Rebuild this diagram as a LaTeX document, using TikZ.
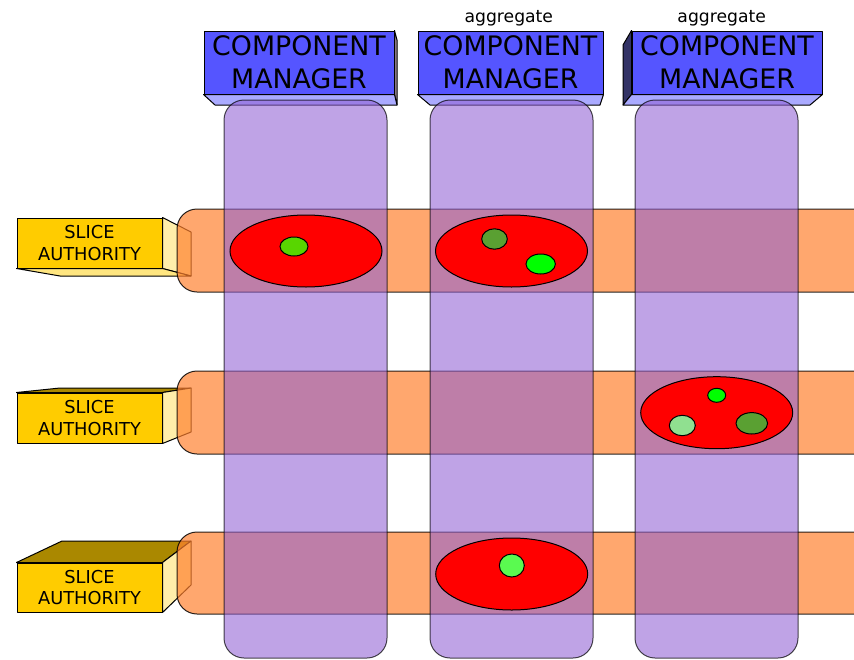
\documentclass[tikz,border=0pt]{standalone}
\usepackage{fontspec}
\setmainfont{DejaVu Sans}
\usetikzlibrary{shapes.geometric}

\definecolor{cmblue}{RGB}{85,85,255}
\definecolor{cmlight}{RGB}{170,170,255}
\definecolor{cmgrey}{RGB}{160,140,150}
\definecolor{cmdark}{RGB}{51,51,102}
\definecolor{sagold}{RGB}{255,204,0}
\definecolor{saside}{RGB}{255,238,170}
\definecolor{sabottom}{RGB}{255,230,128}
\definecolor{satopc}{RGB}{170,136,0}
\definecolor{bandorange}{RGB}{255,129,48}
\definecolor{colpurple}{RGB}{145,97,212}
\definecolor{slicered}{RGB}{255,0,0}
\definecolor{glime}{RGB}{88,214,0}
\definecolor{golive}{RGB}{90,160,50}
\definecolor{gbright}{RGB}{0,255,0}
\definecolor{gpale}{RGB}{144,224,144}
\definecolor{gmint}{RGB}{90,250,80}

\tikzset{
  face/.style={draw=black, line width=1pt, line join=round},
  cmfront/.style={face, fill=cmblue, minimum width=190pt, minimum height=63pt,
    inner sep=0pt, align=center, font=\fontsize{26.8}{33}\selectfont},
  safront/.style={face, fill=sagold, minimum width=145pt, minimum height=50pt,
    inner sep=0pt, align=center, font=\fontsize{17.8}{21.6}\selectfont},
  label/.style={font=\fontsize{17.2}{20}\selectfont, anchor=base},
  band/.style={draw=black, draw opacity=0.85, line width=1pt,
    fill=bandorange, fill opacity=0.7},
  column/.style={draw=black, draw opacity=0.7, line width=1pt,
    fill=colpurple, fill opacity=0.58, rounded corners=20pt},
  slice/.style={ellipse, draw=black, line width=1pt, fill=slicered,
    minimum width=152pt, minimum height=72pt, inner sep=0pt},
  sliver/.style={ellipse, draw=black, line width=1pt, inner sep=0pt}
}

\begin{document}
\begin{tikzpicture}[x=1pt, y=-1pt]
\useasboundingbox (0,0) rectangle (854,659);

% ---- component managers (3D boxes) ----
\node[cmfront] (cm1) at (299,62.5) {COMPONENT\\MANAGER};
\node[cmfront, minimum width=185pt] (cm2) at (510.5,62.5) {COMPONENT\\MANAGER};
\node[cmfront] (cm3) at (727,62.5) {COMPONENT\\MANAGER};

\draw[face, fill=cmgrey] (cm1.north east) -- (397,40) -- (397,105) -- (cm1.south east) -- cycle;
\draw[face, fill=cmlight] (cm1.south west) -- (cm1.south east) -- (397,105) -- (215,105) -- cycle;
\draw[face, fill=cmlight] (cm2.south west) -- (cm2.south east) -- (600,105) -- (430,105) -- cycle;
\draw[face, fill=cmdark] (cm3.north west) -- (623,45) -- (623,105) -- (cm3.south west) -- cycle;
\draw[face, fill=cmlight] (cm3.south west) -- (cm3.south east) -- (810,105) -- (623,105) -- cycle;

\node[label] (agg2) at (508.8,22.7) {aggregate};
\node[label] (agg3) at (721.7,22.7) {aggregate};

% ---- slice authorities (3D boxes) ----
\node[safront] (sa1) at (89.5,243) {SLICE\\AUTHORITY};
\node[safront] (sa2) at (89.5,418) {SLICE\\AUTHORITY};
\node[safront, minimum height=49pt] (sa3) at (89.5,587.5) {SLICE\\AUTHORITY};

\draw[face, fill=saside] (sa1.north east) -- (191,232) -- (191,276) -- (sa1.south east) -- cycle;
\draw[face, fill=sabottom] (sa1.south west) -- (sa1.south east) -- (191,276) -- (60,276) -- cycle;

\draw[face, fill=satopc] (sa2.north west) -- (60,388) -- (191,388) -- (sa2.north east) -- cycle;
\draw[face, fill=saside] (sa2.north east) -- (191,388) -- (191,432) -- (sa2.south east) -- cycle;

\draw[face, fill=satopc] (sa3.north west) -- (62,541) -- (191,541) -- (sa3.north east) -- cycle;
\draw[face, fill=saside] (sa3.north east) -- (191,541) -- (191,585) -- (sa3.south east) -- cycle;

% ---- horizontal bands ----
\draw[band] (880,292) [rounded corners=20pt] -- (177,292) -- (177,209) [sharp corners] -- (880,209);
\draw[band] (880,454) [rounded corners=20pt] -- (177,454) -- (177,371) [sharp corners] -- (880,371);
\draw[band] (880,614) [rounded corners=20pt] -- (177,614) -- (177,532) [sharp corners] -- (880,532);

% ---- vertical columns ----
\draw[column] (224,100) rectangle (387,658);
\draw[column] (430,100) rectangle (593,658);
\draw[column] (635,100) rectangle (798,658);

% ---- slices ----
\node[slice] (s11) at (306,251) {};
\node[sliver, fill=glime, minimum width=28pt, minimum height=19pt] (v1) at (294,246.5) {};

\node[slice] (s12) at (511.5,251) {};
\node[sliver, fill=golive, minimum width=25.6pt, minimum height=20.4pt] (v2) at (494.5,239) {};
\node[sliver, fill=gbright, minimum width=29.4pt, minimum height=20pt] (v3) at (540.7,264) {};

\node[slice] (s23) at (716.7,412.7) {};
\node[sliver, fill=gbright, minimum width=18pt, minimum height=14pt] (v4) at (716.7,395.3) {};
\node[sliver, fill=gpale, minimum width=26pt, minimum height=20.4pt] (v5) at (682.3,425.5) {};
\node[sliver, fill=golive, minimum width=31.6pt, minimum height=21.4pt] (v6) at (751.8,423.3) {};

\node[slice] (s32) at (511.7,574) {};
\node[sliver, fill=gmint, minimum width=25pt, minimum height=23pt] (v7) at (511.8,565.5) {};
\end{tikzpicture}
\end{document}
